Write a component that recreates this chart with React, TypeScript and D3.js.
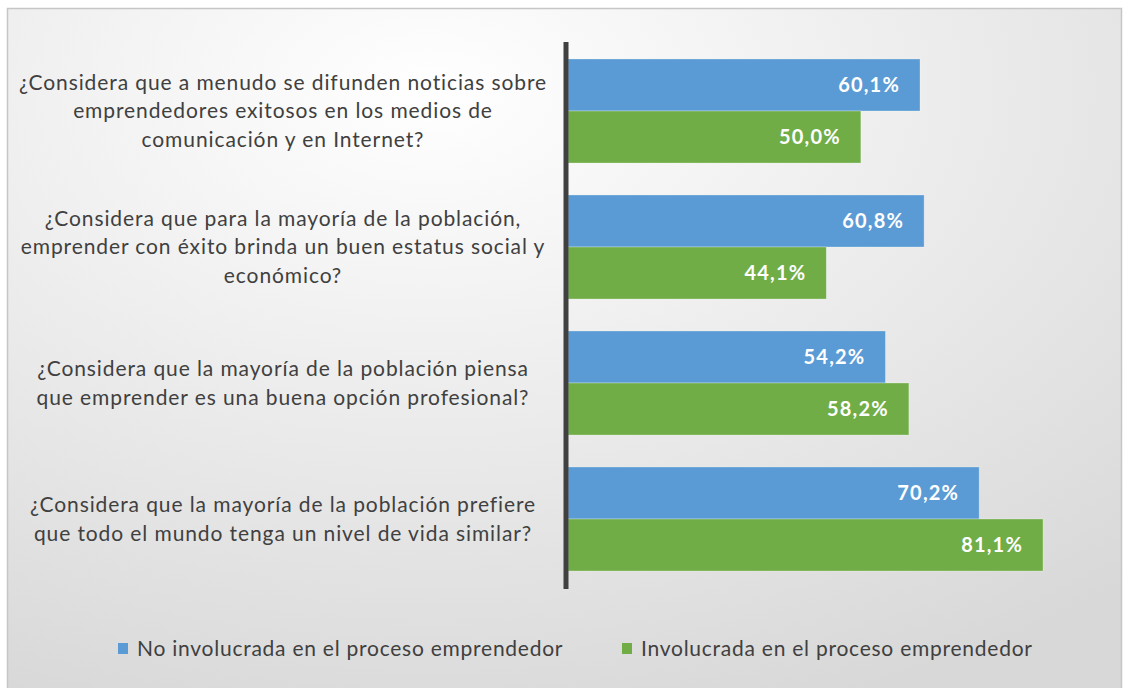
import * as d3 from 'd3';
import { useEffect, useRef } from 'react';

// question labels, one entry per line
const questions: string[][] = [
  ['¿Considera que a menudo se difunden noticias sobre', 'emprendedores exitosos en los medios de', 'comunicación y en Internet?'],
  ['¿Considera que para la mayoría de la población,', 'emprender con éxito brinda un buen estatus social y', 'económico?'],
  ['¿Considera que la mayoría de la población piensa', 'que emprender es una buena opción profesional?'],
  ['¿Considera que la mayoría de la población prefiere', 'que todo el mundo tenga un nivel de vida similar?'],
];
const seriesNames = ['No involucrada en el proceso emprendedor', 'Involucrada en el proceso emprendedor'];
const noInvolucrada = [60.1, 60.8, 54.2, 70.2];
const involucrada = [50.0, 44.1, 58.2, 81.1];
const colors = ['#5b9bd5', '#70ad47'];

const W = 1124;
const H = 688;

const App = () => {
  const ref = useRef<SVGSVGElement>(null);

  useEffect(() => {
    const svg = d3.select(ref.current);
    svg.selectAll('*').remove();
    const font = 'Lato, "Open Sans", sans-serif';

    // background gradient
    const defs = svg.append('defs');
    const grad = defs.append('radialGradient')
      .attr('id', 'bg-grad')
      .attr('cx', '38%').attr('cy', '12%').attr('r', '95%');
    grad.append('stop').attr('offset', '0%').attr('stop-color', '#ffffff');
    grad.append('stop').attr('offset', '100%').attr('stop-color', '#d8d8d8');

    svg.append('rect').attr('width', W).attr('height', H).attr('fill', '#ffffff');
    svg.append('rect')
      .attr('x', 7.5).attr('y', 8.5)
      .attr('width', 1114).attr('height', 690)
      .attr('fill', 'url(#bg-grad)')
      .attr('stroke', '#c6c6c6')
      .attr('stroke-width', 1.5);

    const idx = d3.range(questions.length);
    const y0 = d3.scaleBand<number>()
      .domain(idx)
      .range([43, 587])
      .paddingInner(0.235)
      .paddingOuter(0.1175);
    const y1 = d3.scaleBand<number>()
      .domain([0, 1])
      .range([0, y0.bandwidth()]);
    const x = d3.scaleLinear().domain([0, 81.1]).range([568, 1043]);

    const series = [noInvolucrada, involucrada];
    const g = svg.append('g');

    series.forEach((vals, s) => {
      g.selectAll(`rect.s${s}`)
        .data(vals)
        .enter()
        .append('rect')
        .attr('class', `s${s}`)
        .attr('x', x(0))
        .attr('y', (_, i) => (y0(i) as number) + (y1(s) as number))
        .attr('width', d => x(d) - x(0))
        .attr('height', y1.bandwidth())
        .attr('fill', colors[s])
        .attr('stroke', 'rgba(255,255,255,0.35)')
        .attr('stroke-width', 0.8);

      g.selectAll(`text.v${s}`)
        .data(vals)
        .enter()
        .append('text')
        .attr('class', `v${s}`)
        .attr('x', d => x(d) - 20)
        .attr('y', (_, i) => (y0(i) as number) + (y1(s) as number) + y1.bandwidth() / 2)
        .attr('dy', '0.35em')
        .attr('text-anchor', 'end')
        .attr('fill', '#ffffff')
        .attr('font-family', font)
        .attr('font-weight', 700)
        .attr('font-size', 20)
        .attr('letter-spacing', 1.2)
        .text(d => d.toFixed(1).replace('.', ',') + '%');
    });

    // category axis line
    svg.append('line')
      .attr('x1', 566).attr('x2', 566)
      .attr('y1', 42).attr('y2', 589)
      .attr('stroke', '#404040')
      .attr('stroke-width', 5);

    // question labels
    const lineH = 28.8;
    questions.forEach((lines, i) => {
      const cy = (y0(i) as number) + y0.bandwidth() / 2;
      const t = svg.append('text')
        .attr('text-anchor', 'middle')
        .attr('fill', '#404040')
        .attr('font-family', font)
        .attr('font-size', 21)
        .attr('letter-spacing', 0.9);
      lines.forEach((ln, j) => {
        t.append('tspan')
          .attr('x', 283)
          .attr('y', cy + (j - (lines.length - 1) / 2) * lineH)
          .attr('dy', '0.35em')
          .text(ln);
      });
    });

    // legend
    const legendX = [118, 622];
    seriesNames.forEach((name, s) => {
      svg.append('rect')
        .attr('x', legendX[s]).attr('y', 643)
        .attr('width', 10).attr('height', 11)
        .attr('fill', colors[s]);
      svg.append('text')
        .attr('x', legendX[s] + 19)
        .attr('y', 649)
        .attr('dy', '0.35em')
        .attr('fill', '#404040')
        .attr('font-family', font)
        .attr('font-size', 21)
        .attr('letter-spacing', 0.75)
        .text(name);
    });
  }, []);

  return (
    <div style={{ position: 'fixed', left: 0, top: 0, width: W, height: H }}>
      <svg ref={ref} width={W} height={H} style={{ display: 'block' }}></svg>
    </div>
  );
};

export default App;
